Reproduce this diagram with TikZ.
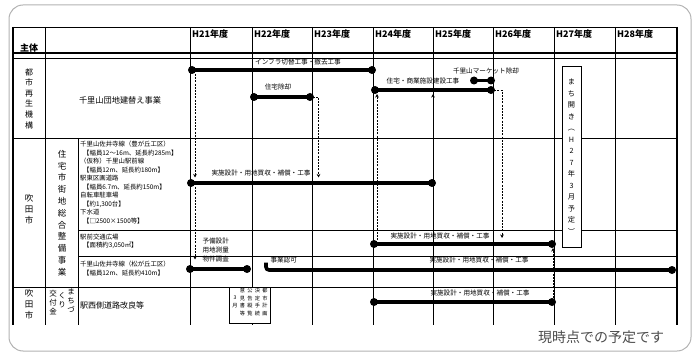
\documentclass[tikz,border=0pt]{standalone}
\usepackage{fontspec}
\newfontfamily\jp{Noto Sans CJK JP}
\usetikzlibrary{arrows.meta}
\begin{document}
\begin{tikzpicture}[x=1pt,y=-1pt,
  gridl/.style={line width=0.6pt},
  thick border/.style={line width=1.2pt},
  bar/.style={line width=3.6pt},
  dotc/.style={circle, fill, inner sep=0, minimum size=8pt},
  dsh/.style={line width=0.55pt, dash pattern=on 2pt off 1.2pt},
  arr/.style={-{Stealth[length=3.5pt,width=3.5pt]}},
  lbl/.style={font=\jp\fontsize{6.6}{7}\selectfont, inner sep=0.3pt},
  desc/.style={font=\jp\fontsize{6.4}{8.5}\selectfont, inner sep=0, align=left, anchor=north west},
  yr/.style={font=\jp\bfseries\fontsize{9}{10}\selectfont, anchor=west, inner sep=0},
  vt/.style={font=\jp\fontsize{8}{10.6}\selectfont, align=center, inner sep=0},
  vsmall/.style={font=\jp\fontsize{5.2}{7.6}\selectfont, align=center, inner sep=0, anchor=north},
]
\useasboundingbox (0,0) rectangle (695,355);
% outer frame
\draw[gray!60, line width=1pt, rounded corners=14] (9,5) rectangle (691,351);

% ---------- grid ----------
\foreach \x in {190,252,312,373,433,493,554,615} \draw[gridl] (\x,27) -- (\x,325);
\draw[thick border] (13,27) -- (13,325);
\draw[gridl] (45,27) -- (45,325);
\draw[gridl] (78,138) -- (78,325);
\draw[thick border] (677,27) -- (677,325);
\draw[gridl] (13,27) -- (677,27);
\draw[line width=1.4pt] (13,53) -- (677,53);
\draw[gridl] (13,58) -- (677,58);
\draw[gridl] (13,138) -- (677,138);
\draw[gridl] (78,230) -- (677,230);
\draw[gridl] (78,256) -- (677,256);
\draw[gridl] (13,287) -- (677,287);

% ---------- header ----------
\node[font=\jp\bfseries\fontsize{9}{10}\selectfont, inner sep=0] (shutai) at (29,48) {主体};
\node[yr] (h21) at (192,34) {H21年度};
\node[yr] (h22) at (254,34) {H22年度};
\node[yr] (h23) at (314,34) {H23年度};
\node[yr] (h24) at (375,34) {H24年度};
\node[yr] (h25) at (435,34) {H25年度};
\node[yr] (h26) at (495,34) {H26年度};
\node[yr] (h27) at (556,34) {H27年度};
\node[yr] (h28) at (617,34) {H28年度};

% ---------- left columns ----------
\node[vt] (ur) at (29,98.5) {都\\市\\再\\生\\機\\構};
\node[font=\jp\fontsize{8.2}{9}\selectfont, inner sep=0] (danchi) at (120,100) {千里山団地建替え事業};
\node[vt, font=\jp\fontsize{8.5}{11}\selectfont] (suita1) at (29,209) {吹\\田\\市};
\node[vt, font=\jp\fontsize{8.5}{11.8}\selectfont] (sogo) at (62,213) {住\\宅\\市\\街\\地\\総\\合\\整\\備\\事\\業};
\node[desc] (d1) at (80,141) {千里山佐井寺線（豊が丘工区）\\
\hspace{3pt}【幅員12～16m、延長約285m】\\
（仮称）千里山駅前線\\
\hspace{3pt}【幅員12m、延長約180m】\\
駅東区画道路\\
\hspace{3pt}【幅員6.7m、延長約150m】\\
自転車駐車場\\
\hspace{3pt}【約1,300台】\\
下水道\\
\hspace{3pt}【□2500×1500等】};
\node[desc] (d2) at (80,233.5) {駅前交通広場\\ \hspace{3pt}【面積約3,050㎡】};
\node[desc] (d3) at (80,261) {千里山佐井寺線（松が丘工区）\\ \hspace{3pt}【幅員12m、延長約410m】};
\node[vt, font=\jp\fontsize{8.5}{11}\selectfont] (suita2) at (29,304) {吹\\田\\市};
\node[vt, font=\jp\fontsize{7.5}{9}\selectfont, anchor=north] (mc1) at (71,288) {ま\\ち\\づ};
\node[vt, font=\jp\fontsize{7.5}{9}\selectfont, anchor=north] (mc2) at (62,292) {く\\り};
\node[vt, font=\jp\fontsize{7.5}{9}\selectfont, anchor=north] (mc3) at (53,290) {交\\付\\金};
\node[font=\jp\fontsize{8}{9}\selectfont, inner sep=0, anchor=west] (eki) at (80,305) {駅西側道路改良等};

% ---------- まち開き box ----------
\node[draw, fill=white, line width=0.6pt, minimum width=19pt, minimum height=181pt, inner sep=0] (machi) at (571.5,156.5) {};
\node[vt, font=\jp\fontsize{7.2}{11.5}\selectfont] (machit) at (machi.center) {ま\\ち\\開\\き\\︵\\H\\2\\7\\年\\3\\月\\予\\定\\︶};

% ---------- H22 box ----------
\node[draw, fill=white, line width=0.7pt, minimum width=41pt, minimum height=36pt, inner sep=0] (keikaku) at (249.5,305) {};
\node[vsmall] (k1) at (265,288) {都\\市\\計\\画};
\node[vsmall] (k2) at (257.5,288) {決\\定\\手\\続};
\node[vsmall] (k3) at (250,288) {公\\告\\縦\\覧};
\node[vsmall] (k4) at (242.5,288) {意\\見\\書\\等};
\node[vsmall] (k5) at (235,295.6) {3\\月};

% ---------- bars ----------
% B1 infra
\node[dotc] (b1s) at (192,70) {};
\node[dotc] (b1e) at (372,70) {};
\draw[bar] (b1s.center) -- (b1e.center);
\node[lbl] (l1) at (298,62.5) {インフラ切替工事・撤去工事};
% B2 住宅除却
\node[dotc] (b2s) at (254,97) {};
\node[dotc] (b2e) at (310,97) {};
\draw[bar] (b2s.center) -- (b2e.center);
\node[lbl] (l2) at (278,87) {住宅除却};
% B3 住宅・商業施設建設工事
\node[dotc] (b3s) at (375,90) {};
\node[dotc] (b3e) at (491,90) {};
\draw[bar] (b3s.center) -- (b3e.center);
\node[lbl] (l3) at (423,80.5) {住宅・商業施設建設工事};
% B4 マーケット除却
\node[dotc] (b4s) at (474,80.5) {};
\node[dotc] (b4e) at (491,80.5) {};
\draw[bar] (b4s.center) -- (b4e.center);
\node[lbl] (l4) at (486,70.5) {千里山マーケット除却};
% B5 住宅市街地 row1
\node[dotc] (b5s) at (191,183) {};
\node[dotc] (b5e) at (432,183) {};
\draw[bar] (b5s.center) -- (b5e.center);
\node[lbl] (l5) at (261,173.5) {実施設計・用地買収・補償・工事};
% B6 駅前交通広場
\node[dotc] (b6s) at (374,244) {};
\node[dotc] (b6e) at (552,244) {};
\draw[bar] (b6s.center) -- (b6e.center);
\node[lbl] (l6) at (440,236) {実施設計・用地買収・補償・工事};
% B7 予備設計
\node[dotc] (b7s) at (190,269) {};
\node[dotc] (b7e) at (247,269) {};
\draw[bar] (b7s.center) -- (b7e.center);
\node[lbl, anchor=west] (l7a) at (202,241) {予備設計};
\node[lbl, anchor=west] (l7b) at (202,250) {用地測量};
\node[lbl, anchor=west] (l7c) at (202,259.5) {物件調査};
% B8 事業認可
\coordinate (b8s) at (266,262.5);
\node[dotc] (b8e) at (672,270) {};
\draw[bar, rounded corners=3] (b8s) |- (b8e.center);
\node[lbl, anchor=west] (l8a) at (270,260) {事業認可};
\node[lbl] (l8) at (479,260.5) {実施設計・用地買収・補償・工事};
% B9 まちづくり
\node[dotc] (b9s) at (374,302) {};
\node[dotc] (b9e) at (552,302) {};
\draw[bar] (b9s.center) -- (b9e.center);
\node[lbl] (l9) at (480,293) {実施設計・用地買収・補償・工事};

% ---------- dashed connectors ----------
\coordinate (c1) at (195,74);
\coordinate (c1e) at (195,177.5);
\draw[dsh, arr] (c1) -- (c1e);
\coordinate (c2) at (195,187);
\draw[dsh, arr] (c2) -- (l7c.west -| c2);
\coordinate (c3) at (318.5,97);
\coordinate (c3e) at (318.5,177.5);
\draw[dsh, arr] (b2e.center) -- (c3) -- (c3e);
\coordinate (c4) at (502,90);
\coordinate (c4e) at (502,238);
\draw[dsh, arr] (b3e.center) -- (c4) -- (c4e);
\coordinate (c5) at (377,240);
\coordinate (c5e) at (377,94);
\draw[dsh, arr] (c5) -- (c5e);
\coordinate (c6) at (433,180);
\coordinate (c6e) at (433,94);
\draw[gridl, arr] (c6) -- (c6e);
\coordinate (c7) at (553,298);
\coordinate (c7e) at (553,248);
\draw[dsh, arr] (c7) -- (c7e);

% ---------- note ----------
\node[font=\jp\fontsize{14}{15}\selectfont, text=black!70, inner sep=0] (note) at (601,337) {現時点での予定です};
\end{tikzpicture}
\end{document}
